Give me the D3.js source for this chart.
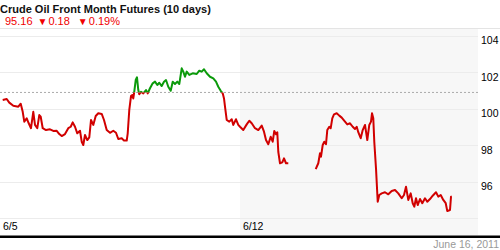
<!DOCTYPE html>
<html>
<head>
<meta charset="utf-8">
<script src="https://cdn.jsdelivr.net/npm/d3@7"></script>
<style>
    html, body { margin: 0; padding: 0; background: #fff; }
    #chart { width: 500px; height: 250px; }
</style>
</head>
<body>
<div id="chart"></div>
<script>
/**
 * Crude oil front month futures - 10 day chart
 */

// hours since 6/5 00:00, price
var session1 = [
    [1.9, 100.47], [4.7, 100.52], [6.5, 100.32], [9.3, 100.15], [12.8, 100.10], [14.5, 100.26],
    [15.9, 99.82], [17.0, 99.28], [18.7, 99.46], [20.1, 99.19], [21.7, 98.92], [23.3, 99.82],
    [24.5, 99.10], [26.1, 98.92], [27.5, 99.64], [28.5, 99.55], [29.9, 98.92], [32.2, 98.82],
    [35.0, 98.86], [37.3, 98.77], [39.7, 98.78], [41.5, 98.60], [43.2, 98.49], [45.5, 98.60],
    [47.8, 98.92], [49.5, 99.00], [50.9, 99.24], [52.5, 99.00], [54.1, 98.64], [56.0, 98.78],
    [57.2, 98.18], [58.3, 98.00], [59.5, 98.55], [61.1, 98.27], [62.5, 98.42], [63.7, 99.37],
    [65.3, 99.10], [67.0, 99.59], [68.8, 99.74], [71.2, 99.70], [72.8, 99.37], [74.7, 98.82],
    [77.0, 98.67], [79.3, 98.78], [81.2, 98.67], [82.8, 98.33], [85.2, 98.37], [86.8, 98.24],
    [88.7, 98.24], [89.4, 98.64], [90.5, 99.92], [91.7, 100.68], [92.6, 100.74], [93.3, 100.55],
    [94.0, 100.92], [95.0, 101.56], [95.9, 101.71], [96.8, 101.01], [97.5, 100.78], [98.7, 100.92],
    [100.3, 100.83], [102.2, 101.01], [103.4, 100.83], [105.0, 101.11], [106.9, 101.38], [108.5, 101.47],
    [110.1, 101.29], [111.5, 101.41], [113.2, 101.23], [114.8, 101.47], [116.2, 101.56], [117.8, 101.19],
    [119.5, 100.97], [120.9, 101.47], [122.5, 101.34], [124.1, 101.47], [125.5, 101.34], [127.2, 102.20],
    [128.3, 102.02], [129.5, 101.74], [130.7, 102.02], [132.5, 101.84], [134.9, 101.93], [137.7, 101.89],
    [139.5, 102.07], [141.2, 102.02], [142.8, 102.15], [144.7, 101.93], [147.0, 101.74], [149.3, 101.65],
    [151.2, 101.47], [152.8, 101.19], [154.5, 100.97], [155.9, 100.83], [156.8, 100.55], [157.5, 100.10],
    [158.7, 99.37], [160.5, 99.28], [162.2, 99.41], [163.3, 99.10], [165.2, 99.41], [166.8, 99.10],
    [168.0, 99.00], [170.3, 98.82], [172.7, 99.13], [174.5, 99.33], [176.2, 99.19], [178.5, 98.92],
    [180.8, 98.82], [183.2, 99.06], [184.8, 98.73], [186.2, 98.27], [187.8, 98.04], [189.5, 98.45],
    [190.9, 98.18], [192.0, 98.77], [193.2, 98.59], [194.1, 98.70], [194.8, 97.63], [196.0, 97.00],
    [197.6, 97.05], [198.8, 97.27], [200.2, 97.00], [201.8, 97.00]
];

var session2 = [
    [221.0, 96.68], [222.8, 97.00], [224.0, 97.55], [224.7, 97.36], [225.9, 98.00], [227.0, 98.18],
    [228.2, 98.04], [229.1, 98.82], [230.5, 99.00], [231.5, 98.92], [232.6, 99.46], [233.8, 99.68],
    [235.7, 99.74], [237.5, 99.61], [239.2, 99.50], [241.5, 99.28], [243.1, 99.13], [245.0, 99.19],
    [246.9, 99.00], [248.5, 98.88], [249.7, 99.00], [250.8, 98.70], [252.5, 98.37], [253.9, 98.82],
    [255.5, 99.10], [257.1, 98.27], [258.5, 99.10], [259.7, 99.28], [260.4, 99.74], [261.3, 99.46],
    [262.0, 98.18], [263.2, 96.72], [264.4, 94.89], [265.5, 95.26], [267.2, 95.35], [269.5, 95.41],
    [271.8, 95.30], [274.2, 95.48], [276.5, 95.53], [278.8, 95.35], [281.2, 95.08], [282.8, 95.26],
    [284.2, 95.71], [285.8, 94.99], [287.5, 95.35], [288.9, 94.81], [290.0, 94.62], [291.2, 95.08],
    [292.4, 94.71], [294.0, 95.04], [295.6, 94.81], [297.5, 95.08], [299.1, 94.89], [301.0, 95.04],
    [302.9, 95.22], [305.2, 95.41], [306.8, 95.17], [308.5, 95.26], [310.3, 94.99], [312.0, 94.81],
    [313.1, 94.38], [315.0, 94.44], [315.7, 95.17], [316.2, 95.16]
];

var baseline = 100.88;
var yTicks = [94, 96, 98, 100, 102, 104];
var yLabels = [96, 98, 100, 102, 104];
var xTicks = [0, 168];
var xTickLabels = ["6/5", "6/12"];

var title = "Crude Oil Front Month Futures (10 days)";
var quote = { last: "95.16", change: "0.18", pct: "0.19%" };
var dateText = "June 16, 2011";

(function() {
    'use strict';

    var width = 500, height = 250;
    var plotLeft = 0, plotRight = 478, plotTop = 29, plotBottom = 235;
    var red = "#d10000", green = "#0b9a0b";

    var svg = d3.select("#chart").append("svg")
        .attr("width", width)
        .attr("height", height)
        .style("font-family", "Arial, 'Liberation Sans', sans-serif");

    var x = d3.scaleLinear().domain([0, 336]).range([0, 480]);
    var y = d3.scaleLinear().domain([94, 104]).range([218, 35.5]);

    // Shaded second week
    svg.append("rect")
        .attr("x", x(xTicks[1]))
        .attr("y", plotTop)
        .attr("width", plotRight - x(xTicks[1]))
        .attr("height", plotBottom - plotTop)
        .style("fill", "#f7f7f7");

    // Header
    svg.append("text")
        .attr("x", 0)
        .attr("y", 13)
        .style("font-size", "11px")
        .style("font-weight", "bold")
        .style("fill", "#111")
        .text(title);

    var quoteText = svg.append("text")
        .attr("x", 5)
        .attr("y", 25)
        .style("font-size", "11px")
        .style("fill", "#f00000");
    quoteText.append("tspan").text(quote.last);
    quoteText.append("tspan").attr("dx", 5).style("font-size", "10px").text("\u25BC");
    quoteText.append("tspan").attr("dx", 1).text(quote.change);
    quoteText.append("tspan").attr("dx", 8).style("font-size", "10px").text("\u25BC");
    quoteText.append("tspan").attr("dx", 1).text(quote.pct);

    svg.append("line")
        .attr("x1", 0).attr("x2", width)
        .attr("y1", 28.5).attr("y2", 28.5)
        .style("stroke", "#e4e4e4")
        .style("stroke-width", 1);

    // Gridlines
    svg.append("g")
        .selectAll("line")
        .data(yTicks)
        .enter().append("line")
        .attr("x1", plotLeft)
        .attr("x2", plotRight)
        .attr("y1", function(d) { return Math.round(y(d)) + 0.5; })
        .attr("y2", function(d) { return Math.round(y(d)) + 0.5; })
        .style("stroke", "#ececec")
        .style("stroke-width", 1);

    // Y labels
    svg.append("g")
        .selectAll("text")
        .data(yLabels)
        .enter().append("text")
        .attr("x", 481)
        .attr("y", function(d) { return y(d) + 8.5; })
        .style("font-size", "10.5px")
        .style("fill", "#000")
        .text(function(d) { return d; });

    // X labels
    svg.append("g")
        .selectAll("text")
        .data(xTicks)
        .enter().append("text")
        .attr("x", function(d) { return x(d) + 3; })
        .attr("y", 230)
        .style("font-size", "10.5px")
        .style("fill", "#000")
        .text(function(d, i) { return xTickLabels[i]; });

    // Previous close
    svg.append("line")
        .attr("x1", plotLeft)
        .attr("x2", plotRight)
        .attr("y1", y(baseline))
        .attr("y2", y(baseline))
        .style("stroke", "#aaa")
        .style("stroke-dasharray", "2,2")
        .style("stroke-width", 1);

    // Price line, green above previous close and red below
    var defs = svg.append("defs");
    defs.append("clipPath").attr("id", "clip-up")
        .append("rect")
        .attr("x", 0).attr("y", 0)
        .attr("width", width).attr("height", y(baseline));
    defs.append("clipPath").attr("id", "clip-down")
        .append("rect")
        .attr("x", 0).attr("y", y(baseline))
        .attr("width", width).attr("height", height - y(baseline));

    var line = d3.line()
        .x(function(d) { return x(d[0]); })
        .y(function(d) { return y(d[1]); });

    [["clip-up", green], ["clip-down", red]].forEach(function(c) {
        var g = svg.append("g").attr("clip-path", "url(#" + c[0] + ")");
        [session1, session2].forEach(function(s) {
            g.append("path")
                .datum(s)
                .attr("d", line)
                .style("fill", "none")
                .style("stroke", c[1])
                .style("stroke-width", 2)
                .style("stroke-linejoin", "round");
        });
    });

    // Bottom rule and date
    svg.append("rect")
        .attr("x", 0)
        .attr("y", 235.5)
        .attr("width", width)
        .attr("height", 2.5)
        .style("fill", "#000");

    svg.append("text")
        .attr("x", 499)
        .attr("y", 248)
        .attr("text-anchor", "end")
        .style("font-size", "10.5px")
        .style("fill", "#999")
        .text(dateText);
})();
</script>
</body>
</html>
